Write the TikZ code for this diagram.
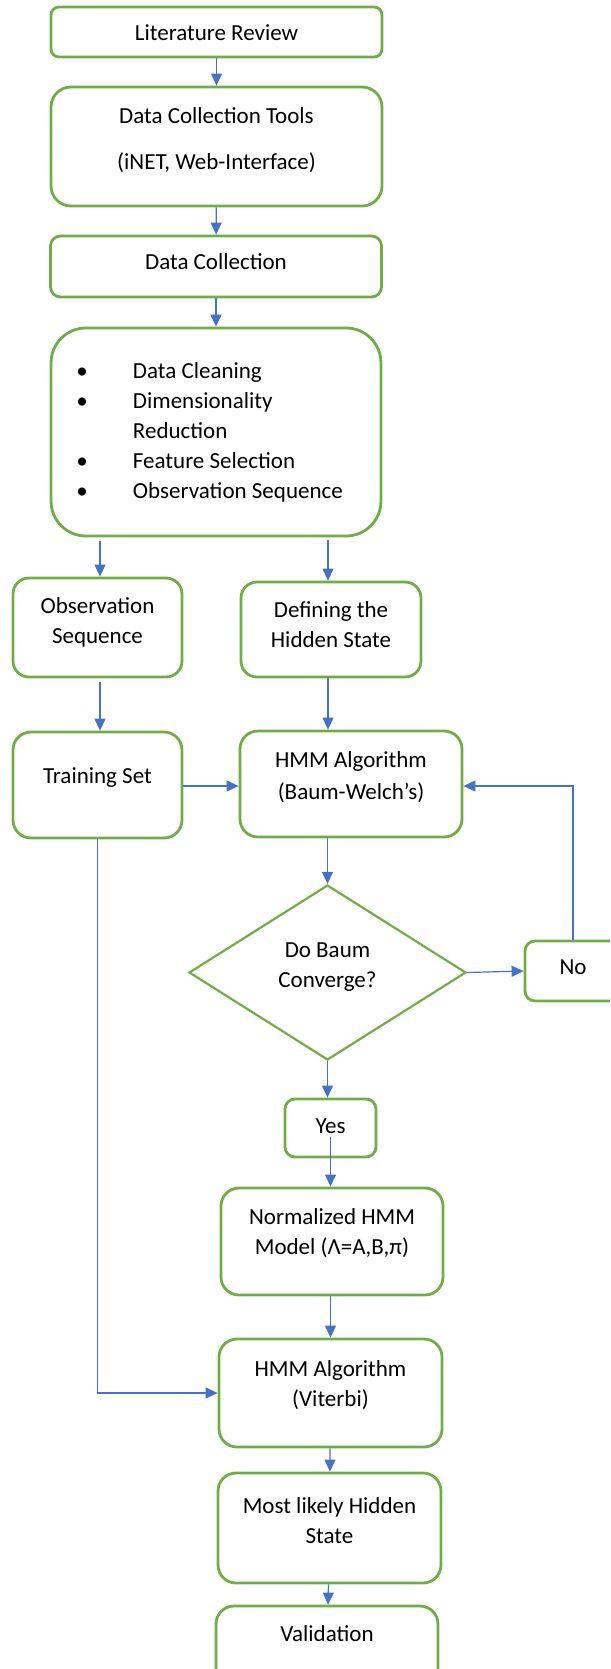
\documentclass[tikz,border=0pt]{standalone}
\usepackage{fontspec}
\setmainfont{Carlito}
\usetikzlibrary{shapes.geometric,arrows.meta}
\definecolor{boxgreen}{HTML}{70AD47}
\definecolor{flowblue}{HTML}{4472C4}
% one drawing unit
\newcommand\PX{0.5pt}

\begin{document}
\begin{tikzpicture}[x=0.5pt,y=-0.5pt,
  box/.style={draw=boxgreen, line width=1.4pt, fill=white, inner sep=0pt},
  decision/.style={diamond, draw=boxgreen, line width=1.1pt, fill=white, inner sep=0pt},
  txt/.style={align=center, inner sep=0pt, font=\fontsize{11.5}{15}\selectfont},
  flow/.style={draw=flowblue, line width=0.6pt, -{Triangle[width=5.5pt,length=6pt]}},
]
\useasboundingbox (0,0) rectangle (610,1669);
\clip (0,0) rectangle (610,1669);

% ---- top column ----
\node[box, minimum width=331*\PX, minimum height=50*\PX, rounded corners=8*\PX,
  label={[txt,yshift=-0.5pt]center:{Literature Review}}] (lit) at (216.5,32) {};
\node[box, minimum width=331*\PX, minimum height=119*\PX, rounded corners=20*\PX,
  label={[txt,yshift=3.25pt,font=\fontsize{11.5}{23}\selectfont]center:{Data Collection Tools\\(iNET, Web-Interface)}}] (tools) at (216.5,146.5) {};
\node[box, minimum width=331*\PX, minimum height=61*\PX, rounded corners=10*\PX,
  label={[txt,yshift=2.25pt]center:{Data Collection}}] (dc) at (216,266.5) {};
\node[box, minimum width=330*\PX, minimum height=208*\PX, rounded corners=35*\PX,
  label={[txt,align=left]center:{%
    \makebox[51pt]{\textbullet}\makebox[134pt][l]{Data Cleaning}\\
    \makebox[51pt]{\textbullet}\makebox[134pt][l]{Dimensionality}\\
    \makebox[51pt]{}\makebox[134pt][l]{Reduction}\\
    \makebox[51pt]{\textbullet}\makebox[134pt][l]{Feature Selection}\\
    \makebox[51pt]{\textbullet}\makebox[134pt][l]{Observation Sequence}}}] (prep) at (216,432) {};

% ---- two branches ----
\node[box, minimum width=169*\PX, minimum height=99*\PX, rounded corners=16*\PX,
  label={[txt,yshift=2.75pt]center:{Observation\\Sequence}}] (obs) at (97.5,627.5) {};
\node[box, minimum width=180*\PX, minimum height=95*\PX, rounded corners=16*\PX,
  label={[txt,yshift=2.5pt,font=\fontsize{11.5}{14.75}\selectfont]center:{Defining the\\Hidden State}}] (def) at (331,629.5) {};
\node[box, minimum width=169*\PX, minimum height=106*\PX, rounded corners=18*\PX,
  label={[txt,yshift=3.5pt]center:{Training Set}}] (train) at (97.5,785) {};
\node[box, minimum width=222*\PX, minimum height=106*\PX, rounded corners=18*\PX,
  label={[txt,yshift=3.5pt,font=\fontsize{11.5}{16}\selectfont]center:{HMM Algorithm\\(Baum-Welch’s)}}] (baum) at (351,784) {};

% ---- convergence test ----
\node[decision, minimum width=277*\PX, minimum height=175*\PX,
  label={[txt,yshift=2.75pt]center:{Do Baum\\Converge?}}] (conv) at (327.5,972.5) {};
\node[box, minimum width=96*\PX, minimum height=60*\PX, rounded corners=10*\PX,
  label={[txt,yshift=2pt]center:{No}}] (no) at (573,971) {};
\node[box, minimum width=91*\PX, minimum height=58*\PX, rounded corners=10*\PX,
  label={[txt,yshift=1pt]center:{Yes}}] (yes) at (330.5,1128) {};

% ---- lower column ----
\node[box, minimum width=222*\PX, minimum height=107*\PX, rounded corners=18*\PX,
  label={[txt,yshift=4pt]center:{Normalized HMM\\Model (Λ=A,B,π)}}] (norm) at (332,1241.5) {};
\node[box, minimum width=223*\PX, minimum height=108*\PX, rounded corners=18*\PX,
  label={[txt,yshift=3.75pt]center:{HMM Algorithm\\(Viterbi)}}] (vit) at (330.5,1393) {};
\node[box, minimum width=223*\PX, minimum height=110*\PX, rounded corners=18*\PX,
  label={[txt,yshift=3.5pt]center:{Most likely Hidden\\State}}] (ml) at (329.5,1528) {};
\node[box, minimum width=222*\PX, minimum height=108*\PX, rounded corners=18*\PX,
  label={[txt,yshift=13pt]center:{Validation}}] (val) at (327,1660) {};

% ---- connectors ----
\draw[flow] (lit) -- (tools);
\draw[flow] (tools) -- (dc);
\draw[flow] (dc) -- (prep);
\draw[flow, shorten <=2pt] ([xshift=1.25pt]obs.north |- prep.south) -- ([xshift=1.25pt]obs.north);
\draw[flow, shorten <=1.5pt] ([xshift=-1.5pt]def.north |- prep.south) -- ([xshift=-1.5pt]def.north);
\draw[flow, shorten <=2pt] ([xshift=1.25pt]obs.south) -- ([xshift=1.25pt]train.north);
\draw[flow] ([xshift=-1.5pt]def.south) -- ([xshift=-1.5pt]def.south |- baum.north);
\draw[flow] ([yshift=-0.5pt]train.east) -- ([yshift=-0.5pt]train.east -| baum.west);
\draw[flow] (conv.north |- baum.south) -- (conv.north);
\draw[flow] (conv.east) -- (no.west);
\draw[flow] (no.north) |- ([yshift=-1pt]baum.east);
\draw[flow] (conv.south) -- (conv.south |- yes.north);
\draw[flow] ([yshift=-4.5pt]yes.center) -- (yes.center |- norm.north);
\draw[flow] (norm.south -| yes.center) -- (yes.center |- vit.north);
\draw[flow] (train.south) |- (vit.west);
\draw[flow] (vit) -- (ml);
\draw[flow] (ml) -- (val);
\end{tikzpicture}
\end{document}
